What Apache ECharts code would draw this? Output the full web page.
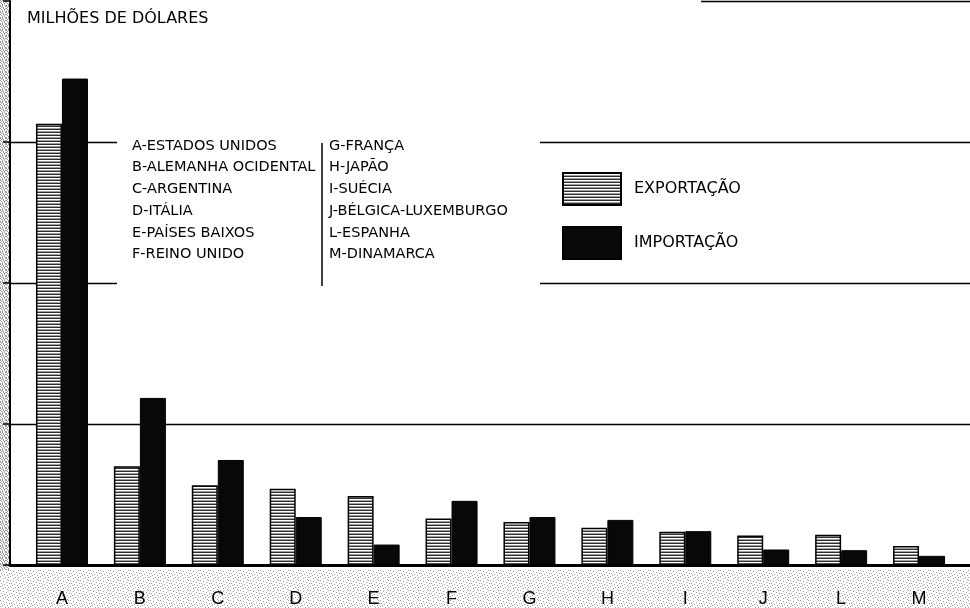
<!DOCTYPE html>
<html>
<head>
<meta charset="utf-8">
<script src="https://cdn.jsdelivr.net/npm/echarts@6/dist/echarts.min.js"></script>
<style>
html,body{margin:0;padding:0;background:#fff;}
#chart{width:970px;height:608px;}
</style>
</head>
<body>
<div id="chart"></div>
<script>
// ---- data (milhões de dólares) ----
var categories = ['A','B','C','D','E','F','G','H','I','J','L','M'];
var exportacao = [626, 140, 113, 108, 98, 66, 61, 53, 47, 42, 43, 27];
var importacao = [690, 237, 149, 68, 29, 91, 68, 64, 48, 22, 21, 13];
var yTicks = [0, 200, 400, 600, 800];
var keyCol1 = ['A-ESTADOS UNIDOS','B-ALEMANHA OCIDENTAL','C-ARGENTINA','D-ITÁLIA','E-PAÍSES BAIXOS','F-REINO UNIDO'];
var keyCol2 = ['G-FRANÇA','H-JAPÃO','I-SUÉCIA','J-BÉLGICA-LUXEMBURGO','L-ESPANHA','M-DINAMARCA'];
var seriesNames = ['EXPORTAÇÃO','IMPORTAÇÃO'];
var unitTitle = 'MILHÕES DE DÓLARES';

// ---- patterns ----
function stripePattern(){
  var c = document.createElement('canvas'); c.width = 4; c.height = 3;
  var g = c.getContext('2d');
  var rows = ['#2e2e2e','#ffffff','#a0a0a0'];
  for (var i=0;i<3;i++){ g.fillStyle = rows[i]; g.fillRect(0,i,4,1); }
  return c;
}
function tilePattern(map, dot){
  var h = map.length, w = map[0].length;
  var c = document.createElement('canvas'); c.width = w; c.height = h;
  var g = c.getContext('2d');
  g.fillStyle = '#ffffff'; g.fillRect(0,0,w,h);
  g.fillStyle = dot;
  for (var y=0;y<h;y++) for (var x=0;x<w;x++) if (map[y][x]==='x') g.fillRect(x,y,1,1);
  return c;
}
var leftTile = tilePattern(['x.x..x','.x.x..','x..x.x','.x..x.','..x.x.','x.x..x'], '#9a9a9a');
var bottomTile = tilePattern([
  'x.......x.',
  '...x......',
  '......x...',
  '.x.......x',
  '....x.....',
  '..x....x..',
  'x.........',
  '.....x..x.',
  '...x......',
  '.......x..'
], '#a0a0a0');

var chart = echarts.init(document.getElementById('chart'), null, {renderer:'canvas'});
var FONT = 'DejaVu Sans';

var graphics = [
  {type:'rect', shape:{x:0,y:0,width:9,height:608}, style:{fill:{image:leftTile, repeat:'repeat'}}, z:0, silent:true},
  {type:'rect', shape:{x:0,y:570,width:970,height:38}, style:{fill:{image:bottomTile, repeat:'repeat'}}, z:0, silent:true},
  // cover grid lines behind the key and at top-left
  {type:'rect', shape:{x:117,y:132,width:423,height:160}, style:{fill:'#ffffff'}, z:1, silent:true},
  {type:'rect', shape:{x:11,y:0,width:690,height:4}, style:{fill:'#ffffff'}, z:1, silent:true},
  {type:'line', shape:{x1:322,y1:143,x2:322,y2:286}, style:{stroke:'#000',lineWidth:1.5}, z:3, silent:true},
  {type:'text', left:27, top:11, style:{text:unitTitle, font:'16px "DejaVu Sans"', fill:'#000'}, z:3}
];
var rowY = [146, 167.5, 189, 211, 233, 254];
keyCol1.forEach(function(t,i){
  graphics.push({type:'text', x:132, y:rowY[i], style:{text:t, font:'14.5px "DejaVu Sans"', fill:'#000', textVerticalAlign:'middle', verticalAlign:'middle'}, z:3});
});
keyCol2.forEach(function(t,i){
  graphics.push({type:'text', x:329, y:rowY[i], style:{text:t, font:'14.5px "DejaVu Sans"', fill:'#000', textVerticalAlign:'middle', verticalAlign:'middle'}, z:3});
});

var option = {
  animation:false,
  backgroundColor:'#ffffff',
  textStyle:{fontFamily:FONT},
  grid:[
    {left:23, right:12, top:1, bottom:43},
    {left:10, right:0, top:1, bottom:43}
  ],
  legend:{
    data:seriesNames,
    orient:'vertical',
    left:562, top:172,
    itemWidth:58, itemHeight:32, itemGap:20,
    padding:0,
    icon:'rect',
    textStyle:{fontFamily:FONT, fontSize:16, color:'#000', padding:[0,0,0,8]},
    selectedMode:false
  },
  xAxis:[
    {type:'category', gridIndex:0, data:categories,
     axisLine:{show:false}, axisTick:{show:false},
     axisLabel:{color:'#000', fontFamily:'Liberation Sans', fontSize:18, margin:25},
     splitLine:{show:false}},
    {type:'value', gridIndex:1, min:0, max:1,
     axisLine:{show:true, onZero:false, lineStyle:{color:'#000', width:3}},
     axisTick:{show:false}, axisLabel:{show:false}, splitLine:{show:false}}
  ],
  yAxis:[
    {type:'value', gridIndex:0, min:yTicks[0], max:yTicks[yTicks.length-1], interval:yTicks[1]-yTicks[0], show:false},
    {type:'value', gridIndex:1, min:yTicks[0], max:yTicks[yTicks.length-1], interval:yTicks[1]-yTicks[0],
     axisLine:{show:true, lineStyle:{color:'#000', width:2}},
     axisTick:{show:true, inside:false, length:7, lineStyle:{color:'#000', width:1.5}},
     axisLabel:{show:false},
     splitLine:{show:true, lineStyle:{color:'#000', width:1.3}}}
  ],
  series:[
    {name:seriesNames[0], type:'bar', xAxisIndex:0, yAxisIndex:0, data:exportacao,
     barWidth:26, barGap:'0%', z:5,
     itemStyle:{color:{image:stripePattern(), repeat:'repeat'}, borderColor:'#000', borderWidth:1.5}},
    {name:seriesNames[1], type:'bar', xAxisIndex:0, yAxisIndex:0, data:importacao,
     barWidth:26, barGap:'0%', z:5,
     itemStyle:{color:'#080808', borderColor:'#000', borderWidth:1}}
  ],
  graphic:graphics
};
chart.setOption(option);
</script>
</body>
</html>
